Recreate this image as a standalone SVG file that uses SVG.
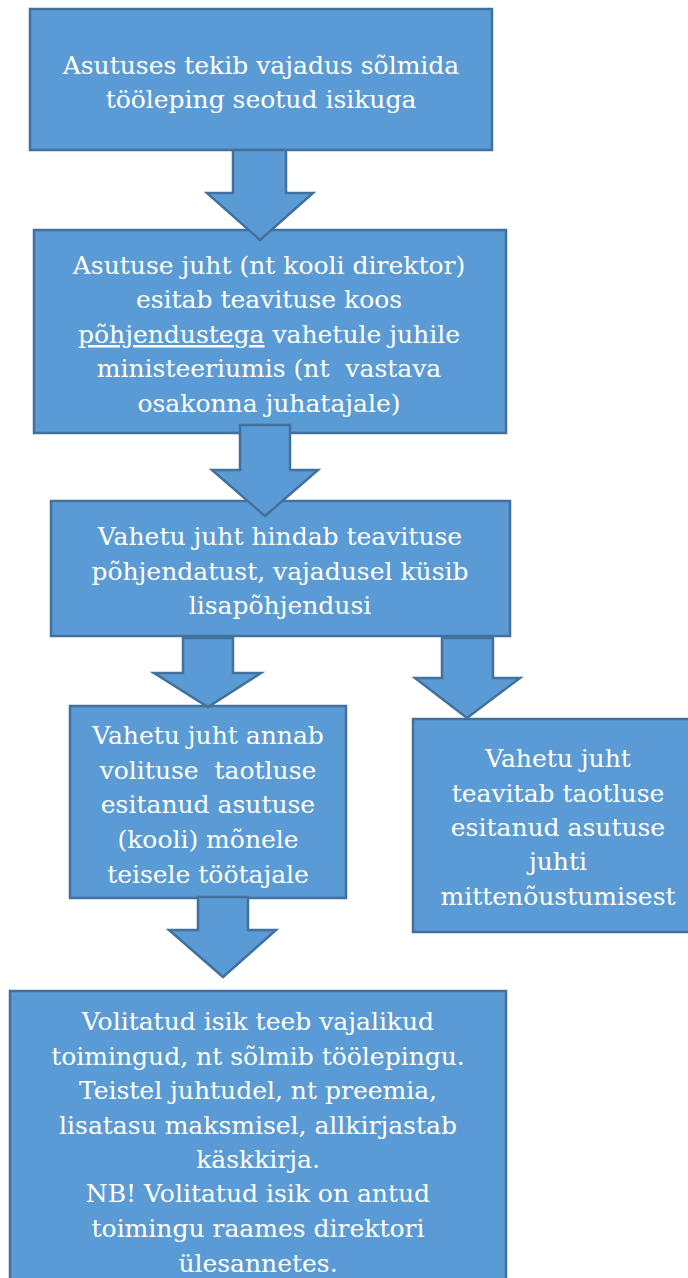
<svg xmlns="http://www.w3.org/2000/svg" width="688" height="1278" viewBox="0 0 688 1278" xml:space="preserve">
<style>
.box{fill:#5B9BD5;stroke:#41719C;stroke-width:2.5}
.arr{fill:#5B9BD5;stroke:#41719C;stroke-width:2.5;stroke-linejoin:miter}
.t{font-family:"DejaVu Serif","Liberation Serif",serif;font-size:25px;fill:#FFFFFF;text-anchor:middle;white-space:pre}
</style>
<rect width="688" height="1278" fill="#FFFFFF"/>
<g id="n1">
<rect class="box" x="30" y="9" width="462" height="141"/>
<text class="t" x="261" y="74">Asutuses tekib vajadus sõlmida</text>
<text class="t" x="261" y="108">tööleping seotud isikuga</text>
</g>
<g id="n2">
<rect class="box" x="34" y="230" width="472" height="203"/>
<text class="t" x="269" y="274">Asutuse juht (nt kooli direktor)</text>
<text class="t" x="269" y="308">esitab teavituse koos</text>
<text class="t" x="269" y="343"><tspan text-decoration="underline">põhjendustega</tspan> vahetule juhile</text>
<text class="t" x="269" y="377">ministeeriumis (nt  vastava</text>
<text class="t" x="269" y="412">osakonna juhatajale)</text>
</g>
<g id="n3">
<rect class="box" x="51" y="501" width="459" height="135"/>
<text class="t" x="280" y="545">Vahetu juht hindab teavituse</text>
<text class="t" x="280" y="580">põhjendatust, vajadusel küsib</text>
<text class="t" x="280" y="614">lisapõhjendusi</text>
</g>
<g id="n4">
<rect class="box" x="70" y="706" width="276" height="192"/>
<text class="t" x="208" y="744">Vahetu juht annab</text>
<text class="t" x="208" y="779">volituse  taotluse</text>
<text class="t" x="208" y="813">esitanud asutuse</text>
<text class="t" x="208" y="848">(kooli) mõnele</text>
<text class="t" x="208" y="883">teisele töötajale</text>
</g>
<g id="n5">
<rect class="box" x="413" y="719" width="292" height="213"/>
<text class="t" x="558" y="767">Vahetu juht</text>
<text class="t" x="558" y="802">teavitab taotluse</text>
<text class="t" x="558" y="836">esitanud asutuse</text>
<text class="t" x="558" y="870">juhti</text>
<text class="t" x="558" y="905">mittenõustumisest</text>
</g>
<g id="n6">
<rect class="box" x="10" y="991" width="496" height="300"/>
<text class="t" x="258" y="1030">Volitatud isik teeb vajalikud</text>
<text class="t" x="258" y="1065">toimingud, nt sõlmib töölepingu.</text>
<text class="t" x="258" y="1099">Teistel juhtudel, nt preemia,</text>
<text class="t" x="258" y="1134">lisatasu maksmisel, allkirjastab</text>
<text class="t" x="258" y="1168">käskkirja.</text>
<text class="t" x="258" y="1202">NB! Volitatud isik on antud</text>
<text class="t" x="258" y="1237">toimingu raames direktori</text>
<text class="t" x="258" y="1272">ülesannetes.</text>
</g>
<g id="connectors">
<polygon class="arr" points="233,150 286,150 286,193 313,193 260,240 207,193 233,193"/>
<polygon class="arr" points="240,425 290,425 290,470 318,470 265,516 212,470 240,470"/>
<polygon class="arr" points="183,638 233,638 233,673 261,673 208,707 154,673 183,673"/>
<polygon class="arr" points="442,638 493,638 493,678 520,678 467,718 415,678 442,678"/>
<polygon class="arr" points="198,897 248,897 248,930 276,930 223,977 169,930 198,930"/>
</g>
</svg>
